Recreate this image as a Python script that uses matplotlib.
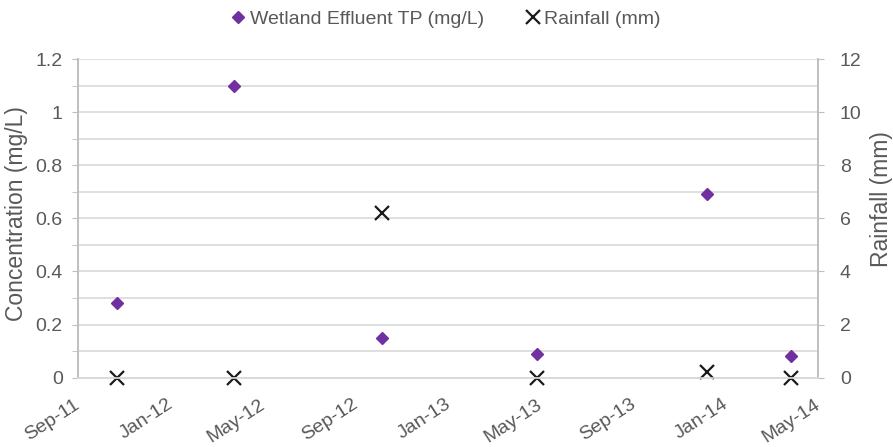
import matplotlib
matplotlib.use("Agg")
import matplotlib.pyplot as plt
import matplotlib.transforms as mtransforms
from matplotlib.ticker import MultipleLocator, FuncFormatter
import datetime as dt

plt.rcParams['font.family'] = ['Liberation Sans', 'DejaVu Sans']

# Sampling dates and measurements
sample_dates = ["2011-10-22", "2012-03-24", "2012-10-05",
                "2013-04-27", "2013-12-06", "2014-03-27"]
tp_mg_l = [0.28, 1.10, 0.15, 0.09, 0.69, 0.08]
rainfall_mm = [0.0, 0.0, 6.2, 0.0, 0.2, 0.0]
tick_labels = ["Sep-11", "Jan-12", "May-12", "Sep-12", "Jan-13",
               "May-13", "Sep-13", "Jan-14", "May-14"]

dates = [dt.datetime.strptime(d, "%Y-%m-%d") for d in sample_dates]
tick_dates = [dt.datetime.strptime(t, "%b-%y") for t in tick_labels]

TEXT = "#595959"
GRID = "#d9d9d9"
SPINE = "#bfbfbf"
PURPLE = "#7030a0"

fig = plt.figure(figsize=(8.93, 4.47), dpi=100)
ax = fig.add_axes([0.0873, 0.155, 0.8284, 0.713])
ax2 = ax.twinx()

ax.set_xlim(tick_dates[0], tick_dates[-1])
ax.set_ylim(0, 1.2)
ax2.set_ylim(0, 12)

ax.yaxis.set_major_locator(MultipleLocator(0.2))
ax.yaxis.set_minor_locator(MultipleLocator(0.1))
ax.yaxis.set_major_formatter(FuncFormatter(lambda v, p: f"{v:g}"))
ax.grid(True, axis='y', which='both', color=GRID, linewidth=1.2)
ax.set_axisbelow(True)
ax2.yaxis.set_major_locator(MultipleLocator(2))

ax.set_xticks(tick_dates)
ax.set_xticklabels(tick_labels, rotation=33, ha='right')
ax.tick_params(axis='x', length=0, pad=13, labelsize=14, labelcolor=TEXT)
ax.tick_params(axis='y', which='both', length=4, color=SPINE, pad=7,
               labelsize=14, labelcolor=TEXT)
ax2.tick_params(axis='y', length=4, color=SPINE, pad=12,
                labelsize=14, labelcolor=TEXT)

# nudge the slanted date labels so their ends sit just past each tick
shift = mtransforms.ScaledTranslation(0.05, 0, fig.dpi_scale_trans)
for lbl in ax.get_xticklabels():
    lbl.set_transform(lbl.get_transform() + shift)

for a in (ax, ax2):
    a.spines['top'].set_visible(False)
    a.spines['left'].set_color(SPINE)
    a.spines['right'].set_color(SPINE)
    a.spines['bottom'].set_color(GRID)
    for s in ('left', 'right', 'bottom'):
        a.spines[s].set_linewidth(1.2)

ax.set_ylabel("Concentration (mg/L)", fontsize=16.5, color=TEXT)
ax.yaxis.set_label_coords(-0.067, 0.516)
ax2.set_ylabel("Rainfall (mm)", fontsize=16.5, color=TEXT)
ax2.yaxis.set_label_coords(1.0707, 0.56)

h1, = ax.plot(dates, tp_mg_l, linestyle='none', marker='D', markersize=6,
              color=PURPLE, clip_on=False, label="Wetland Effluent TP (mg/L)")
h2, = ax2.plot(dates, rainfall_mm, linestyle='none', marker='x',
               markersize=10, markeredgewidth=1.6, color="#1a1a1a",
               clip_on=False, label="Rainfall (mm)")

fig.legend(handles=[h1, h2], loc='center', bbox_to_anchor=(0.5, 0.957),
           ncol=2, frameon=False, fontsize=14, labelcolor=TEXT,
           handlelength=0.6, handletextpad=0.3, columnspacing=2.2)

fig.savefig("out.png", dpi=100)
